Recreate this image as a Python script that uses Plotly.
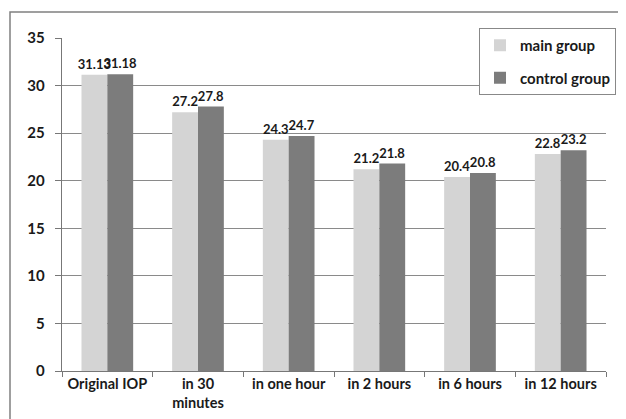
import plotly.graph_objects as go

categories = ["Original IOP", "in 30<br>minutes", "in one hour", "in 2 hours", "in 6 hours", "in 12 hours"]
main_group = [31.13, 27.2, 24.3, 21.2, 20.4, 22.8]
control_group = [31.18, 27.8, 24.7, 21.8, 20.8, 23.2]
main_labels = ["31.13", "27.2", "24.3", "21.2", "20.4", "22.8"]
control_labels = ["31.18", "27.8", "24.7", "21.8", "20.8", "23.2"]
y_ticks = [0, 5, 10, 15, 20, 25, 30, 35]
y_ticktext = [f"{v}\u00a0\u00a0" for v in y_ticks]

FONT = "Lato, 'Open Sans', sans-serif"
lab_font = dict(family=FONT, size=13, color="#1a1a1a", weight="bold")

fig = go.Figure()
fig.add_trace(go.Bar(
    name="main group", x=categories, y=main_group, legendgroup="a",
    marker=dict(color="#d4d4d4", line=dict(width=0)),
    text=main_labels, textposition="outside", cliponaxis=False,
    constraintext="none", textfont=lab_font,
))
fig.add_trace(go.Bar(
    name="control group", x=categories, y=control_group, legendgroup="b",
    marker=dict(color="#7c7c7c", line=dict(width=0)),
    text=control_labels, textposition="outside", cliponaxis=False,
    constraintext="none", textfont=lab_font,
))

W, H = 626, 419
L, R, T, B = 54, 28, 30, 56
pw, ph = W - L - R, H - T - B
fx0 = (2 - L) / pw
fy1 = 1 + (T - 4) / ph
fy0 = -(B + 10) / ph
fx1 = 1 + (R + 10) / pw

fig.update_layout(
    width=W, height=H,
    margin=dict(l=L, r=R, t=T, b=B, autoexpand=False),
    paper_bgcolor="white", plot_bgcolor="white",
    barmode="group", bargap=0.43, bargroupgap=0,
    font=dict(family=FONT, size=14, color="#1a1a1a"),
    showlegend=True,
    legend=dict(
        x=(471 - L) / pw, y=1 - (20 - T) / ph, xanchor="left", yanchor="top",
        bgcolor="white", bordercolor="#888888", borderwidth=1,
        font=dict(family=FONT, size=15, color="#1a1a1a", weight="bold"),
        itemwidth=30, traceorder="grouped", tracegroupgap=10,
    ),
    xaxis=dict(
        showgrid=False, showline=True, linecolor="#777777", linewidth=1,
        ticks="outside", ticklen=5, tickcolor="#777777", tickson="boundaries",
        tickfont=dict(family=FONT, size=14.5, color="#1a1a1a", weight="bold"),
    ),
    yaxis=dict(
        range=[0, 35], tickvals=y_ticks, ticktext=y_ticktext,
        showgrid=True, gridcolor="#8a8a8a", gridwidth=1,
        showline=True, linecolor="#777777", linewidth=1,
        ticks="outside", ticklen=6, tickcolor="#777777",
        tickfont=dict(family=FONT, size=15, color="#1a1a1a", weight="bold"),
        zeroline=False,
    ),
    shapes=[
        dict(type="rect", xref="paper", yref="paper", x0=fx0, x1=fx1, y0=fy0, y1=fy1,
             line=dict(color="#808080", width=1.5), fillcolor="rgba(0,0,0,0)"),
    ],
)

fig.write_html("out.html")
